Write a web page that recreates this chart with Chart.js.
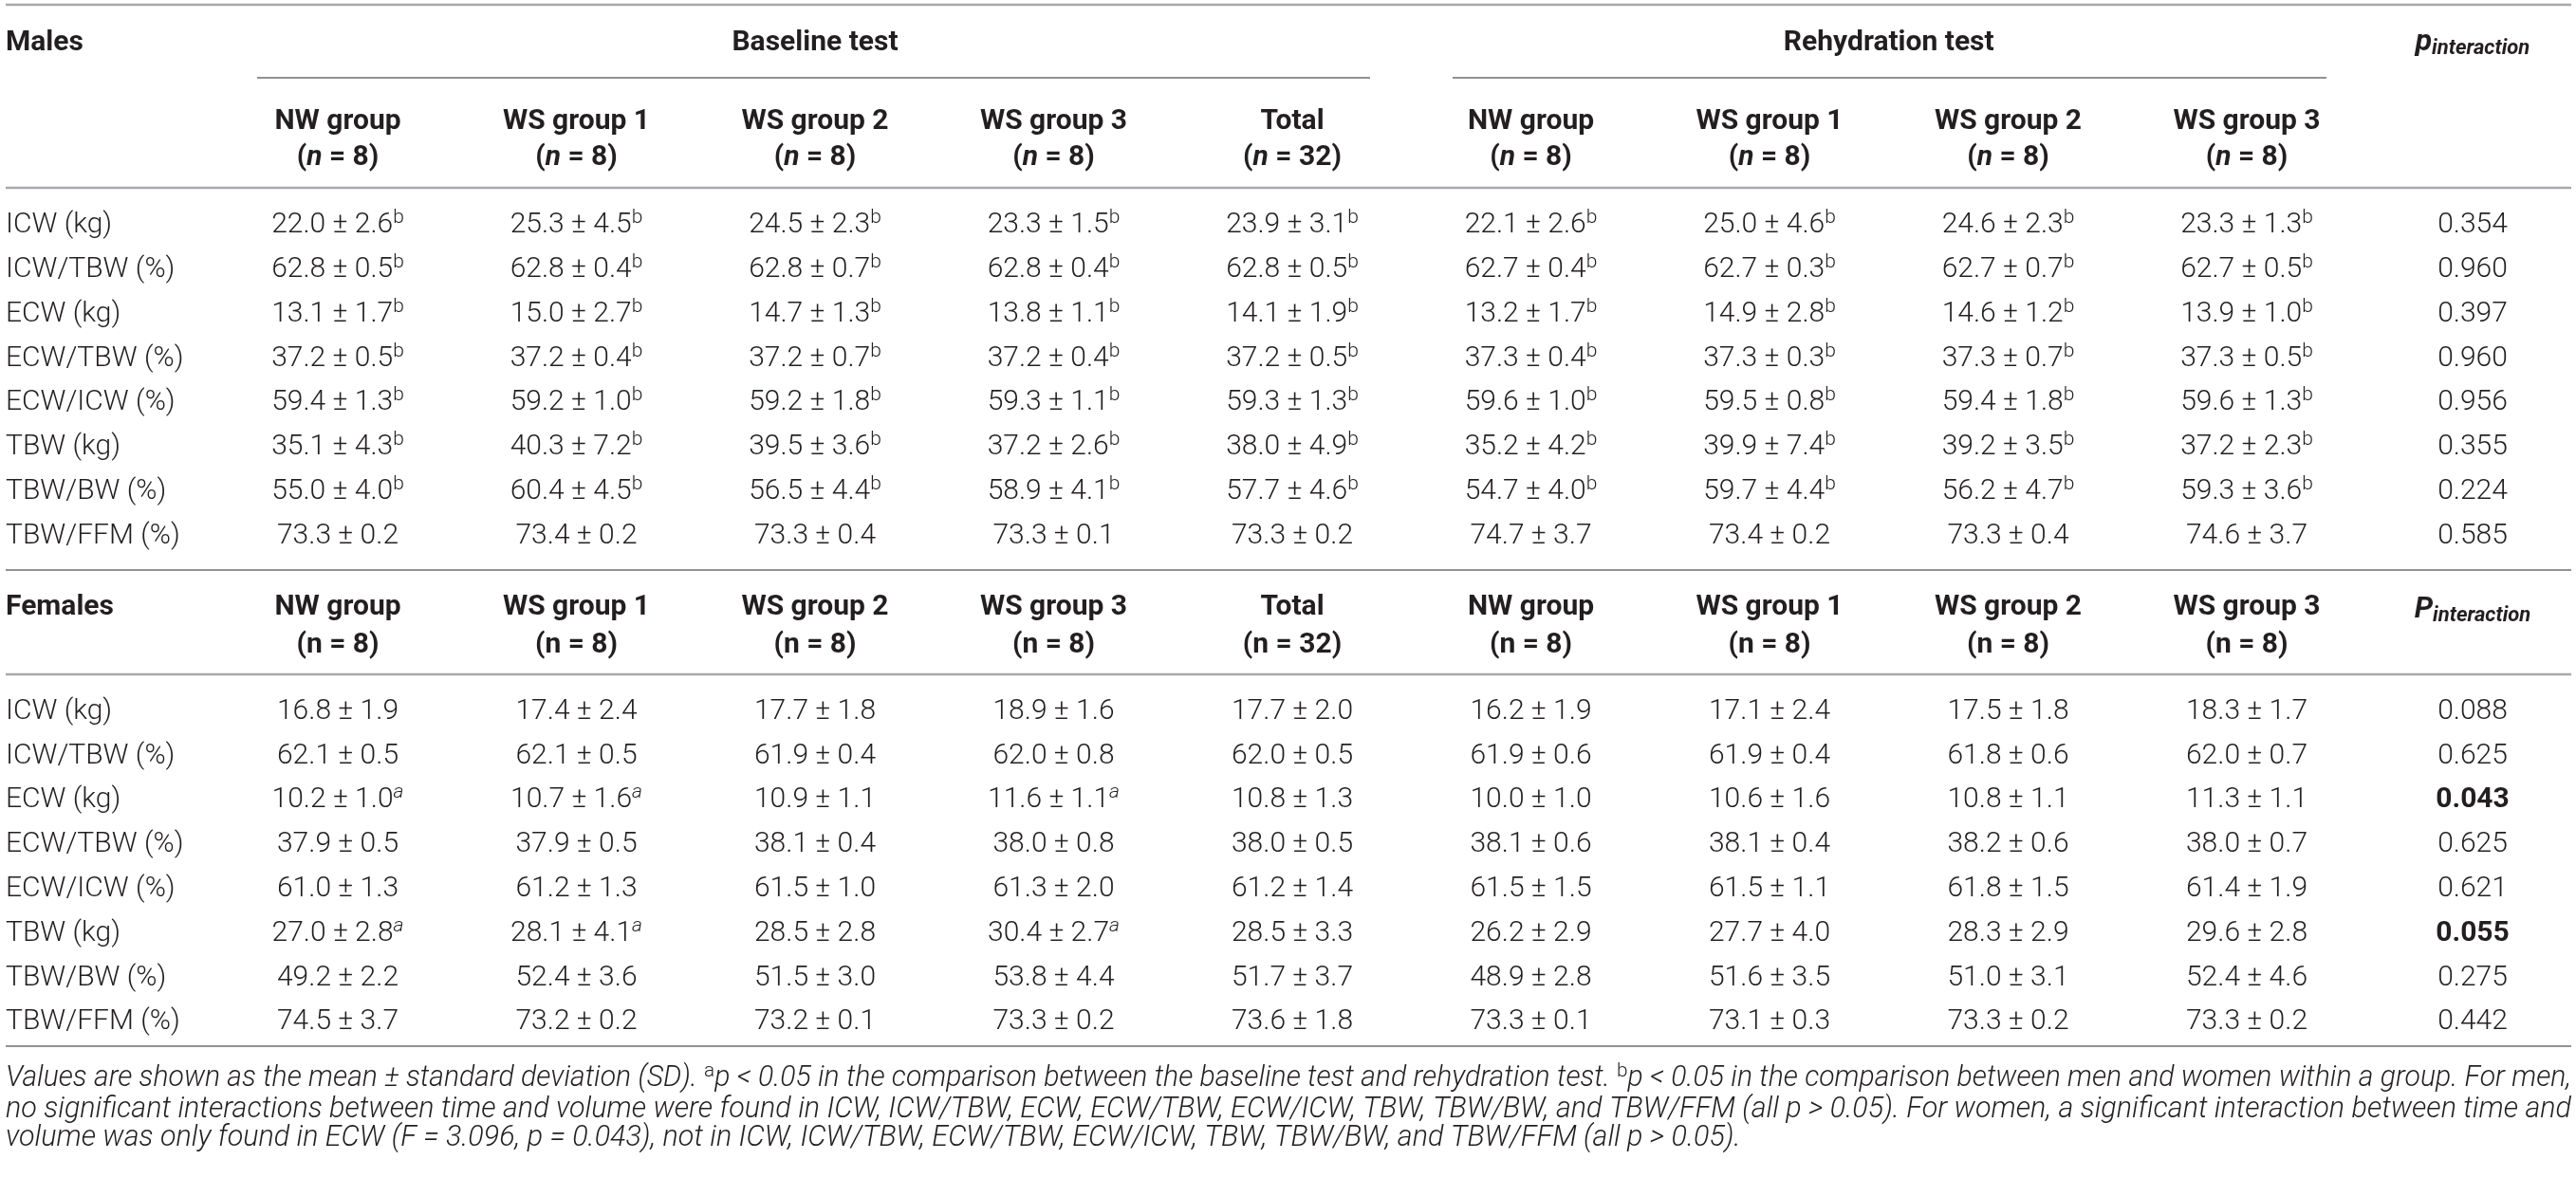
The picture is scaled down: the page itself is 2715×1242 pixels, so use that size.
<!DOCTYPE html>
<html>
<head>
<meta charset="utf-8">
<title>Body water by sex, group and test</title>
<script src="https://cdn.jsdelivr.net/npm/chart.js@4.4.1/dist/chart.umd.min.js"></script>
<style>
	html, body { margin: 0; padding: 0; background: #fff; }
	#wrap { width: 2715px; height: 1242px; position: relative; }
</style>
</head>
<body>
<div id="wrap"><canvas id="tableChart"></canvas></div>
<script>
// ---- data ----
var rowLabels = ['ICW (kg)', 'ICW/TBW (%)', 'ECW (kg)', 'ECW/TBW (%)', 'ECW/ICW (%)', 'TBW (kg)', 'TBW/BW (%)', 'TBW/FFM (%)'];
var groupLabels = ['NW group', 'WS group 1', 'WS group 2', 'WS group 3', 'Total', 'NW group', 'WS group 1', 'WS group 2', 'WS group 3'];
var groupN = [8, 8, 8, 8, 32, 8, 8, 8, 8];
var testLabels = ['Baseline test', 'Rehydration test'];

// one array per row: baseline NW, WS1, WS2, WS3, Total, rehydration NW, WS1, WS2, WS3
var maleMean = [
	[22.0, 25.3, 24.5, 23.3, 23.9, 22.1, 25.0, 24.6, 23.3],
	[62.8, 62.8, 62.8, 62.8, 62.8, 62.7, 62.7, 62.7, 62.7],
	[13.1, 15.0, 14.7, 13.8, 14.1, 13.2, 14.9, 14.6, 13.9],
	[37.2, 37.2, 37.2, 37.2, 37.2, 37.3, 37.3, 37.3, 37.3],
	[59.4, 59.2, 59.2, 59.3, 59.3, 59.6, 59.5, 59.4, 59.6],
	[35.1, 40.3, 39.5, 37.2, 38.0, 35.2, 39.9, 39.2, 37.2],
	[55.0, 60.4, 56.5, 58.9, 57.7, 54.7, 59.7, 56.2, 59.3],
	[73.3, 73.4, 73.3, 73.3, 73.3, 74.7, 73.4, 73.3, 74.6]
];
var maleSD = [
	[2.6, 4.5, 2.3, 1.5, 3.1, 2.6, 4.6, 2.3, 1.3],
	[0.5, 0.4, 0.7, 0.4, 0.5, 0.4, 0.3, 0.7, 0.5],
	[1.7, 2.7, 1.3, 1.1, 1.9, 1.7, 2.8, 1.2, 1.0],
	[0.5, 0.4, 0.7, 0.4, 0.5, 0.4, 0.3, 0.7, 0.5],
	[1.3, 1.0, 1.8, 1.1, 1.3, 1.0, 0.8, 1.8, 1.3],
	[4.3, 7.2, 3.6, 2.6, 4.9, 4.2, 7.4, 3.5, 2.3],
	[4.0, 4.5, 4.4, 4.1, 4.6, 4.0, 4.4, 4.7, 3.6],
	[0.2, 0.2, 0.4, 0.1, 0.2, 3.7, 0.2, 0.4, 3.7]
];
// significance marks per cell, '-' = none
var maleMark = ['bbbbbbbbb', 'bbbbbbbbb', 'bbbbbbbbb', 'bbbbbbbbb', 'bbbbbbbbb', 'bbbbbbbbb', 'bbbbbbbbb', '---------'];
var maleP = [0.354, 0.960, 0.397, 0.960, 0.956, 0.355, 0.224, 0.585];

var femaleMean = [
	[16.8, 17.4, 17.7, 18.9, 17.7, 16.2, 17.1, 17.5, 18.3],
	[62.1, 62.1, 61.9, 62.0, 62.0, 61.9, 61.9, 61.8, 62.0],
	[10.2, 10.7, 10.9, 11.6, 10.8, 10.0, 10.6, 10.8, 11.3],
	[37.9, 37.9, 38.1, 38.0, 38.0, 38.1, 38.1, 38.2, 38.0],
	[61.0, 61.2, 61.5, 61.3, 61.2, 61.5, 61.5, 61.8, 61.4],
	[27.0, 28.1, 28.5, 30.4, 28.5, 26.2, 27.7, 28.3, 29.6],
	[49.2, 52.4, 51.5, 53.8, 51.7, 48.9, 51.6, 51.0, 52.4],
	[74.5, 73.2, 73.2, 73.3, 73.6, 73.3, 73.1, 73.3, 73.3]
];
var femaleSD = [
	[1.9, 2.4, 1.8, 1.6, 2.0, 1.9, 2.4, 1.8, 1.7],
	[0.5, 0.5, 0.4, 0.8, 0.5, 0.6, 0.4, 0.6, 0.7],
	[1.0, 1.6, 1.1, 1.1, 1.3, 1.0, 1.6, 1.1, 1.1],
	[0.5, 0.5, 0.4, 0.8, 0.5, 0.6, 0.4, 0.6, 0.7],
	[1.3, 1.3, 1.0, 2.0, 1.4, 1.5, 1.1, 1.5, 1.9],
	[2.8, 4.1, 2.8, 2.7, 3.3, 2.9, 4.0, 2.9, 2.8],
	[2.2, 3.6, 3.0, 4.4, 3.7, 2.8, 3.5, 3.1, 4.6],
	[3.7, 0.2, 0.1, 0.2, 1.8, 0.1, 0.3, 0.2, 0.2]
];
var femaleMark = ['---------', '---------', 'aa-a-----', '---------', '---------', 'aa-a-----', '---------', '---------'];
var femaleP = [0.088, 0.625, 0.043, 0.625, 0.621, 0.055, 0.275, 0.442];
var femalePBold = [false, false, true, false, false, true, false, false];

var noteLines = [
	'no significant interactions between time and volume were found in ICW, ICW/TBW, ECW, ECW/TBW, ECW/ICW, TBW, TBW/BW, and TBW/FFM (all p > 0.05). For women, a significant interaction between time and',
	'volume was only found in ECW (F = 3.096, p = 0.043), not in ICW, ICW/TBW, ECW/TBW, ECW/ICW, TBW, TBW/BW, and TBW/FFM (all p > 0.05).'
];

// ---- layout (pixels of the 2715x1242 page, turned into scale units) ----
var W = 2715, H = 1242;
var colStart = 356, colStep = 251.5;
var rowStart = 234.5, rowStep = 46.8;
function colAt(px) { return 1 + (px - colStart) / colStep; }
function rowAt(px) { return (px - rowStart) / rowStep; }

var labelX = colAt(6);
var pX = colAt(2606);
var femaleRow0 = rowAt(747);

var ink = '#231f20';
var ruleLight = '#a7a9ac';
var ruleDark = '#6d6e71';

var FAM = 'Roboto, "Liberation Sans", sans-serif';
var fValue = '300 30px ' + FAM;
var fSup = '300 21px ' + FAM;
var fSupIt = 'italic 300 21px ' + FAM;
var fBold = 'bold 30px ' + FAM;
var fBoldIt = 'italic bold 30px ' + FAM;

// footnote size: last (unjustified) line runs to about x = 1836
var mctx = document.createElement('canvas').getContext('2d');
mctx.font = 'italic 300 30px ' + FAM;
var noteSize = Math.round(30 * 1830 / mctx.measureText(noteLines[1]).width * 10) / 10;
var fNote = 'italic 300 ' + noteSize + 'px ' + FAM;
var fNoteSup = '300 ' + Math.round(noteSize * 0.68) + 'px ' + FAM;

function txt(t, font, dy) { return { t: t, font: font, dy: dy || 0 }; }

function cellParts(mean, sd, mark) {
	var p = [txt(mean.toFixed(1) + ' \u00b1 ' + sd.toFixed(1), fValue)];
	if (mark === 'b') p.push(txt('b', fSup, -10));
	if (mark === 'a') p.push(txt('a', fSupIt, -10));
	return p;
}

// draws a run of text pieces, optionally justified to a width
function drawParts(ctx, parts, x, y, align, width) {
	var toks = [];
	parts.forEach(function (p) {
		p.t.split(/( )/).forEach(function (s) {
			if (s === '') return;
			ctx.font = p.font;
			toks.push({ t: s, font: p.font, dy: p.dy, w: ctx.measureText(s).width, sp: s === ' ' });
		});
	});
	var total = 0, spaces = 0;
	toks.forEach(function (k) { total += k.w; if (k.sp) spaces++; });
	var extra = 0, squeeze = 1;
	if (width && spaces) {
		if (total <= width) extra = (width - total) / spaces;
		else squeeze = width / total;
		total = width;
	}
	var cx = align === 'center' ? x - total / 2 : x;
	ctx.save();
	ctx.translate(cx, 0);
	ctx.scale(squeeze, 1);
	cx = 0;
	toks.forEach(function (k) {
		if (!k.sp) { ctx.font = k.font; ctx.fillText(k.t, cx, y + k.dy); }
		cx += k.w + (k.sp ? extra / squeeze : 0);
	});
	ctx.restore();
}

var tableText = {
	id: 'tableText',
	afterDatasetsDraw: function (chart) {
		var ctx = chart.ctx;
		ctx.save();
		ctx.fillStyle = ink;
		ctx.textBaseline = 'alphabetic';
		ctx.textAlign = 'left';
		chart.data.datasets.forEach(function (ds, i) {
			if (!ds.textAlign) return;
			var meta = chart.getDatasetMeta(i);
			meta.data.forEach(function (pt, j) {
				var raw = ds.data[j];
				var width = raw.justifyTo ? chart.scales.x.getPixelForValue(raw.justifyTo) - pt.x : 0;
				drawParts(ctx, raw.parts, pt.x, pt.y + ds.baseShift, ds.textAlign, width);
			});
		});
		ctx.restore();
	}
};

function rule(x0, x1, y, color, width) {
	return { data: [{ x: x0, y: y }, { x: x1, y: y }], showLine: true, borderColor: color, borderWidth: width, pointRadius: 0, fill: false };
}
function textSet(points, align, shift) {
	return { data: points, showLine: false, pointRadius: 0, textAlign: align, baseShift: shift };
}

// ---- build datasets ----
var datasets = [];
var fullL = colAt(6), fullR = colAt(2710);

datasets.push(rule(fullL, fullR, rowAt(5), ruleLight, 2.5));
datasets.push(rule(colAt(271), colAt(1444), rowAt(82), ruleDark, 1.5));
datasets.push(rule(colAt(1531), colAt(2452), rowAt(82), ruleDark, 1.5));
datasets.push(rule(fullL, fullR, rowAt(198), ruleLight, 2.5));
datasets.push(rule(fullL, fullR, rowAt(601), ruleDark, 1.5));
datasets.push(rule(fullL, fullR, rowAt(711), ruleLight, 2.5));
datasets.push(rule(fullL, fullR, rowAt(1103), ruleDark, 1.5));

// headers
var titleY = rowAt(42);
var heads = [
	{ x: labelX, y: titleY, parts: [txt('Males', fBold)] },
	{ x: labelX, y: rowAt(637), parts: [txt('Females', fBold)] }
];
var centredHeads = [
	{ x: 3, y: titleY, parts: [txt(testLabels[0], fBold)] },
	{ x: 7.5, y: titleY, parts: [txt(testLabels[1], fBold)] },
	{ x: pX, y: titleY, parts: [txt('p', 'italic bold 32px ' + FAM), txt('interaction', 'italic bold 22px ' + FAM, 4)] },
	{ x: pX, y: rowAt(640), parts: [txt('P', 'italic bold 31px ' + FAM), txt('interaction', 'italic bold 22px ' + FAM, 4)] }
];
groupLabels.forEach(function (g, c) {
	centredHeads.push({ x: c + 1, y: rowAt(125), parts: [txt(g, fBold)] });
	centredHeads.push({ x: c + 1, y: rowAt(163), parts: [txt('(', fBold), txt('n', fBoldIt), txt(' = ' + groupN[c] + ')', fBold)] });
	centredHeads.push({ x: c + 1, y: rowAt(637), parts: [txt(g, fBold)] });
	centredHeads.push({ x: c + 1, y: rowAt(677), parts: [txt('(n = ' + groupN[c] + ')', fBold)] });
});
datasets.push(textSet(heads, 'left', 10.7));
datasets.push(textSet(centredHeads, 'center', 10.7));

// body
var labels = [], cells = [], pvals = [];
rowLabels.forEach(function (name, r) {
	labels.push({ x: labelX, y: r, parts: [txt(name, fValue)] });
	labels.push({ x: labelX, y: femaleRow0 + r, parts: [txt(name, fValue)] });
	for (var c = 0; c < groupLabels.length; c++) {
		cells.push({ x: c + 1, y: r, parts: cellParts(maleMean[r][c], maleSD[r][c], maleMark[r].charAt(c)) });
		cells.push({ x: c + 1, y: femaleRow0 + r, parts: cellParts(femaleMean[r][c], femaleSD[r][c], femaleMark[r].charAt(c)) });
	}
	pvals.push({ x: pX, y: r, parts: [txt(maleP[r].toFixed(3), fValue)] });
	pvals.push({ x: pX, y: femaleRow0 + r, parts: [txt(femaleP[r].toFixed(3), femalePBold[r] ? fBold : fValue)] });
});
datasets.push(textSet(labels, 'left', 10.7));
datasets.push(textSet(cells, 'center', 10.7));
datasets.push(textSet(pvals, 'center', 10.7));

// footnote
var noteRight = colAt(2710);
var notes = [
	{ x: labelX, y: rowAt(1135), justifyTo: noteRight, parts: [
		txt('Values are shown as the mean \u00b1 standard deviation (SD). ', fNote),
		txt('a', fNoteSup, -10),
		txt('p < 0.05 in the comparison between the baseline test and rehydration test. ', fNote),
		txt('b', fNoteSup, -10),
		txt('p < 0.05 in the comparison between men and women within a group. For men,', fNote)
	] },
	{ x: labelX, y: rowAt(1168), justifyTo: noteRight, parts: [txt(noteLines[0], fNote)] },
	{ x: labelX, y: rowAt(1198), parts: [txt(noteLines[1], fNote)] }
];
datasets.push(textSet(notes, 'left', 10));

var tableChart = new Chart(document.getElementById('tableChart').getContext('2d'), {
	type: 'scatter',
	data: { datasets: datasets },
	options: {
		responsive: true,
		maintainAspectRatio: false,
		animation: false,
		events: [],
		layout: { padding: 0, autoPadding: false },
		plugins: { legend: { display: false }, tooltip: { enabled: false } },
		scales: {
			x: { type: 'linear', display: false, min: colAt(0), max: colAt(W) },
			y: { type: 'linear', display: false, min: rowAt(0), max: rowAt(H), reverse: true }
		}
	},
	plugins: [tableText]
});
</script>
</body>
</html>
